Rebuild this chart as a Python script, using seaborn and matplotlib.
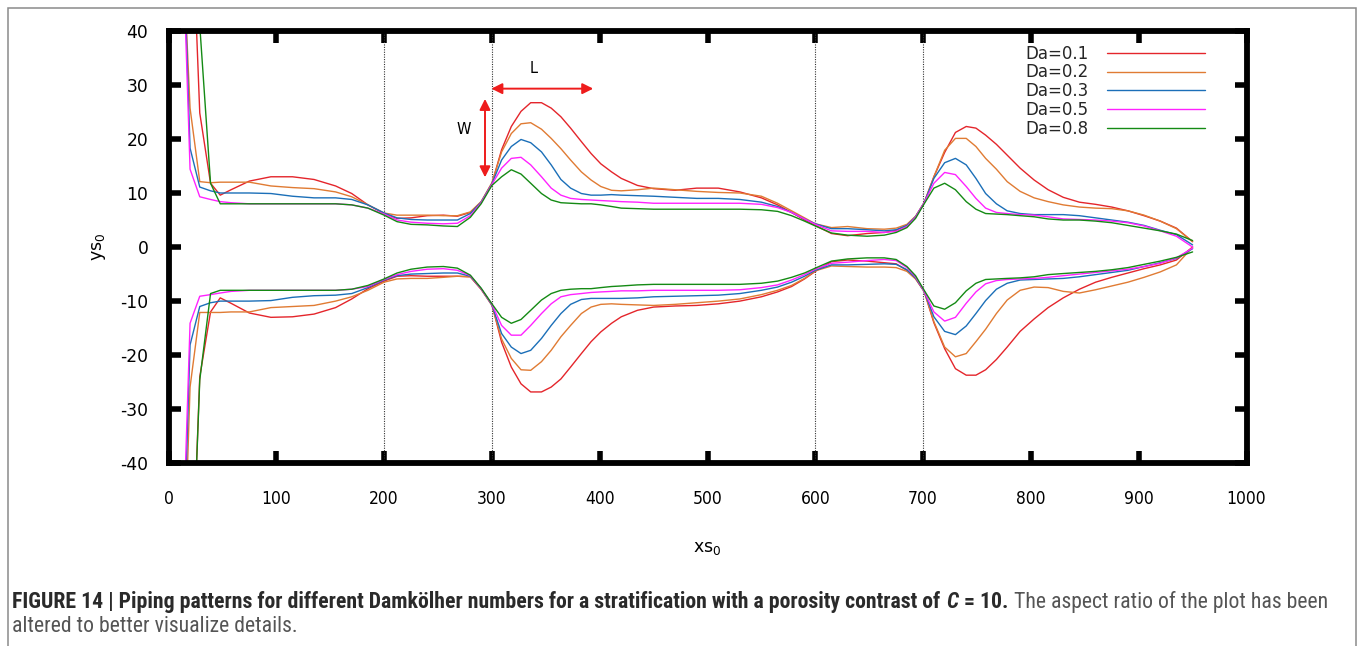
import numpy as np
import pandas as pd
import matplotlib
matplotlib.use("Agg")
import matplotlib.pyplot as plt
import seaborn as sns
from matplotlib import font_manager as fm
from matplotlib.patches import Rectangle

# ---------------------------------------------------------------- data
da_labels = ["Da=0.1", "Da=0.2", "Da=0.3", "Da=0.5", "Da=0.8"]
colors = ["#e4252b", "#e07b33", "#1b6fb8", "#ff22ff", "#148a14"]

xs0 = [10, 20, 29, 39, 48, 58,
       75, 95, 115, 135, 155, 170, 185, 200,
       212, 225, 240, 255, 268, 280, 290, 300,
       309, 318, 327, 336, 346, 355, 364, 373, 383, 392, 401, 411, 420,
       435, 450, 470, 490, 510, 530, 550, 565, 578, 590, 600,
       615, 630, 648, 664, 675, 685, 693, 701,
       710, 720, 730, 740, 749, 758, 768, 778, 790, 803, 816, 830, 845, 860,
       875, 890, 905, 920, 935, 950]

# upper front of the pipe (ys0 > 0)
up_01 = [150, 71, 24.8, 11.8, 9.6, 10.6,
         12.2, 13.0, 13.0, 12.5, 11.3, 9.9, 7.8, 6.2,
         5.3, 5.4, 5.8, 5.9, 5.7, 6.4, 8.3, 11.7,
         18.0, 22.3, 25.1, 26.7, 26.7, 25.7, 24.1, 22.0, 19.5, 17.3, 15.4, 13.9, 12.7,
         11.4, 10.8, 10.5, 10.9, 10.9, 10.2, 9.1, 7.8, 6.4, 5.0, 4.0,
         2.5, 2.1, 2.5, 2.7, 3.1, 4.0, 5.6, 8.2,
         13.0, 17.5, 21.2, 22.3, 22.0, 20.7, 19.0, 17.0, 14.6, 12.4, 10.6, 9.2, 8.3, 7.9,
         7.4, 6.7, 5.8, 4.8, 3.5, 1.0]
up_02 = [70, 25.7, 12.1, 11.9, 12.0, 12.0,
         12.0, 11.3, 11.0, 10.8, 10.2, 9.3, 7.8, 6.3,
         5.9, 5.9, 5.9, 5.8, 5.8, 6.5, 8.4, 11.9,
         17.6, 21.0, 22.8, 23.0, 21.8, 20.1, 18.2, 16.1, 13.9, 12.4, 11.2, 10.5, 10.4,
         10.6, 10.9, 10.6, 10.3, 10.1, 10.0, 9.4, 8.1, 6.7, 5.4, 4.3,
         3.6, 3.8, 3.4, 3.3, 3.5, 4.2, 5.7, 8.2,
         13.0, 17.9, 20.1, 20.1, 18.6, 16.4, 14.4, 12.1, 10.3, 9.1, 8.4, 7.8, 7.4, 7.2,
         7.1, 6.7, 5.9, 4.8, 3.4, 1.0]
up_03 = [79, 18.3, 11.1, 10.4, 10.0, 10.0,
         10.0, 9.9, 9.4, 9.1, 9.1, 8.8, 7.8, 6.3,
         5.4, 5.1, 5.0, 5.0, 5.0, 6.2, 8.3, 11.7,
         16.1, 18.6, 19.9, 19.3, 17.6, 15.2, 12.5, 10.9, 9.9, 9.6, 9.6, 9.7, 9.6,
         9.5, 9.4, 9.2, 9.0, 9.0, 8.8, 8.3, 7.5, 6.4, 5.2, 4.3,
         3.4, 3.4, 3.2, 3.0, 3.2, 4.0, 5.6, 8.2,
         12.7, 15.6, 16.4, 15.2, 12.7, 9.9, 8.0, 6.7, 6.2, 6.0, 6.0, 6.0, 5.8, 5.4,
         5.0, 4.6, 4.0, 3.1, 2.3, 0.4]
up_05 = [76, 14.4, 9.3, 8.8, 8.4, 8.2,
         8.0, 8.0, 8.0, 8.0, 8.0, 7.8, 7.2, 6.1,
         5.0, 4.6, 4.4, 4.3, 4.4, 5.8, 8.2, 11.6,
         14.6, 16.4, 16.6, 15.2, 13.0, 10.9, 9.6, 9.0, 8.8, 8.7, 8.6, 8.5, 8.4,
         8.3, 8.1, 8.1, 8.1, 8.1, 8.1, 7.9, 7.3, 6.4, 5.2, 4.2,
         3.0, 2.9, 2.9, 2.7, 2.9, 3.8, 5.5, 8.2,
         11.8, 13.8, 13.4, 11.2, 9.0, 7.2, 6.4, 6.2, 6.0, 5.9, 5.6, 5.2, 5.1, 5.0,
         4.8, 4.5, 3.9, 3.0, 2.0, 0.0]
up_08 = [150, 90, 41, 11.8, 8.0, 8.0,
         8.0, 8.0, 8.0, 8.0, 8.0, 7.8, 7.2, 5.9,
         4.7, 4.2, 4.1, 3.9, 3.8, 5.5, 8.0, 11.4,
         13.0, 14.3, 13.5, 11.8, 9.9, 8.7, 8.2, 8.1, 8.0, 8.0, 7.8, 7.5, 7.2,
         7.1, 7.0, 7.0, 7.0, 7.0, 7.0, 6.9, 6.6, 5.8, 4.8, 3.9,
         2.6, 2.2, 2.0, 2.2, 2.7, 3.6, 5.3, 8.0,
         10.9, 11.8, 10.6, 8.4, 7.0, 6.2, 6.1, 6.0, 5.8, 5.6, 5.2, 5.0, 5.0, 4.8,
         4.5, 4.0, 3.5, 3.0, 2.4, 1.2]

# lower front of the pipe (ys0 < 0)
lo_01 = [-150, -72, -24.0, -12.0, -9.4, -10.4,
         -12.2, -13.0, -12.9, -12.4, -11.2, -9.6, -7.7, -6.3,
         -5.4, -5.3, -5.4, -5.4, -5.4, -5.5, -7.8, -10.6,
         -17.6, -22.2, -25.3, -26.8, -26.8, -25.9, -24.4, -22.2, -19.7, -17.5, -15.7, -14.1, -12.9,
         -11.7, -11.1, -10.9, -10.8, -10.5, -10.0, -9.2, -8.3, -7.3, -5.9, -4.5,
         -2.7, -2.4, -2.6, -2.9, -3.1, -4.3, -5.8, -8.2,
         -14.0, -18.8, -22.5, -23.7, -23.7, -22.7, -20.8, -18.5, -15.6, -13.3, -11.2, -9.4, -7.8, -6.5,
         -5.6, -4.8, -4.0, -3.3, -2.4, 0.0]
lo_02 = [-88, -25.9, -12.1, -12.1, -12.1, -12.0,
         -12.0, -11.2, -11.0, -10.8, -10.0, -9.2, -8.0, -6.5,
         -5.9, -5.8, -5.8, -5.6, -5.4, -5.5, -7.8, -10.8,
         -17.0, -20.6, -22.7, -22.8, -21.2, -19.1, -16.6, -14.5, -12.3, -11.1, -10.6, -10.5, -10.6,
         -10.7, -10.8, -10.6, -10.3, -10.0, -9.6, -8.8, -8.0, -7.1, -5.8, -4.4,
         -3.5, -3.6, -3.7, -3.7, -3.8, -4.5, -5.9, -8.2,
         -13.8, -18.5, -20.3, -19.7, -17.5, -15.2, -12.3, -9.8, -8.0, -7.4, -7.5, -8.2, -8.5, -7.9,
         -7.2, -6.5, -5.6, -4.6, -3.3, 0.0]
lo_03 = [-82, -18.1, -11.0, -10.3, -10.0, -10.0,
         -10.0, -9.9, -9.3, -9.0, -8.9, -8.6, -7.5, -6.1,
         -5.3, -5.0, -4.9, -4.8, -4.8, -5.4, -7.7, -10.7,
         -16.0, -18.5, -19.7, -19.1, -16.9, -14.5, -12.3, -10.6, -9.7, -9.5, -9.5, -9.5, -9.5,
         -9.4, -9.2, -9.1, -9.0, -8.9, -8.6, -8.0, -7.4, -6.5, -5.4, -4.3,
         -3.3, -3.3, -3.2, -3.1, -3.2, -4.2, -5.7, -8.2,
         -12.9, -15.6, -16.2, -14.6, -12.3, -9.9, -7.8, -6.7, -6.1, -6.0, -5.9, -5.8, -5.5, -5.1,
         -4.7, -4.3, -3.6, -2.9, -2.1, -0.3]
lo_05 = [-76, -14.1, -9.1, -8.8, -8.5, -8.2,
         -8.0, -8.0, -8.0, -8.0, -8.0, -7.8, -7.3, -6.0,
         -5.1, -4.5, -4.1, -4.0, -4.3, -5.3, -7.7, -10.6,
         -14.5, -16.3, -16.3, -14.5, -12.3, -10.5, -9.2, -8.8, -8.6, -8.4, -8.3, -8.2, -8.1,
         -8.1, -8.0, -8.0, -8.0, -8.0, -7.9, -7.5, -7.0, -6.1, -5.1, -4.1,
         -3.0, -2.8, -2.5, -2.3, -2.5, -3.8, -5.5, -8.2,
         -12.0, -13.7, -13.0, -10.4, -8.3, -6.8, -6.2, -6.0, -5.9, -5.8, -5.6, -5.3, -5.0, -4.7,
         -4.4, -4.1, -3.6, -3.0, -2.0, -0.2]
lo_08 = [-150, -72, -24.6, -8.6, -8.0, -8.0,
         -8.0, -8.0, -8.0, -8.0, -8.0, -7.8, -7.1, -5.9,
         -4.8, -4.1, -3.7, -3.6, -3.9, -5.2, -7.6, -10.5,
         -13.0, -14.1, -13.4, -11.7, -9.8, -8.6, -8.0, -7.8, -7.7, -7.7, -7.5, -7.3, -7.2,
         -7.0, -6.9, -6.9, -6.9, -6.9, -6.9, -6.7, -6.3, -5.6, -4.8, -3.9,
         -2.6, -2.2, -2.0, -2.0, -2.3, -3.6, -5.3, -8.0,
         -10.9, -11.5, -10.3, -8.1, -6.7, -6.0, -5.9, -5.8, -5.7, -5.5, -5.1, -4.9, -4.7, -4.5,
         -4.2, -3.8, -3.2, -2.6, -1.9, -0.9]

upper = [up_01, up_02, up_03, up_05, up_08]
lower = [lo_01, lo_02, lo_03, lo_05, lo_08]

layer_bounds = [200, 300, 600, 700]
x_ticks = list(range(0, 1001, 100))
y_ticks = list(range(-40, 41, 10))

# ---------------------------------------------------------------- fonts
sns.set_theme(style="white")
plt.rcParams["font.family"] = ["DejaVu Sans"]
plt.rcParams["mathtext.default"] = "regular"
plt.rcParams["axes.unicode_minus"] = False

entries = fm.fontManager.ttflist
names = {f.name for f in entries}
has_dvs_cond = any(f.name == "DejaVu Sans" and f.stretch == "condensed" for f in entries)


def pick(*cands, default="DejaVu Sans"):
    for c in cands:
        if c in names:
            return c
    return default


if has_dvs_cond:
    tick_x_family, tick_x_stretch, tick_x_size = "DejaVu Sans", "condensed", 12.5
else:
    tick_x_family, tick_x_stretch, tick_x_size = pick("Liberation Sans Narrow", "Roboto Condensed"), "normal", 13.6
caption_family = pick("Liberation Sans Narrow", "Roboto Condensed", "Liberation Sans")

W, H = 1362, 646
fig = plt.figure(figsize=(W / 100, H / 100), dpi=100)
fig.patch.set_facecolor("white")

# axes box in pixels: x 168.5..1246.5, y 30.8..463.3 (from top)
ax = fig.add_axes([168.5 / W, 1 - 463.3 / H, 1078 / W, 432.5 / H])
ax.set_facecolor("white")

# ---------------------------------------------------------------- curves
for lab, col, yu, yl in zip(da_labels, colors, upper, lower):
    sns.lineplot(x=xs0, y=yu, color=col, lw=1.0, estimator=None, sort=False,
                 ax=ax, label=lab)
    sns.lineplot(x=xs0, y=yl, color=col, lw=1.0, estimator=None, sort=False,
                 ax=ax, label="_nolegend_")

# stratification boundaries
for xb in layer_bounds:
    ax.axvline(xb, color="#333333", lw=0.8, ls=(0, (1, 1.2)), zorder=1)

# W and L arrows
red = "#ee1c1c"
ax.annotate("", xy=(299.5, 29.3), xytext=(394, 29.3),
            arrowprops=dict(arrowstyle="<|-|>", color=red, lw=1.4,
                            mutation_scale=16, shrinkA=0, shrinkB=0))
ax.annotate("", xy=(293.6, 27.4), xytext=(293.6, 12.9),
            arrowprops=dict(arrowstyle="<|-|>", color=red, lw=1.4,
                            mutation_scale=16, shrinkA=0, shrinkB=0))
ax.text(339, 33.1, "L", fontsize=10.5, ha="center", va="center", color="black")
ax.text(273.6, 21.7, "W", fontsize=10.5, ha="center", va="center", color="black")

# ---------------------------------------------------------------- axes styling
ax.set_xlim(0, 1000)
ax.set_ylim(-40, 40)
ax.set_xticks(x_ticks)
ax.set_yticks(y_ticks)
for s in ax.spines.values():
    s.set_visible(True)
    s.set_linewidth(4.2)
    s.set_color("black")
ax.tick_params(axis="both", which="major", direction="in", length=8.5, width=4.0,
               color="black", top=True, right=True, bottom=True, left=True)
ax.tick_params(axis="y", labelsize=12.3, pad=14.5, labelcolor="black")
ax.tick_params(axis="x", labelsize=tick_x_size, pad=19, labelcolor="black")
for lbl in ax.get_xticklabels():
    lbl.set_family(tick_x_family)
    lbl.set_stretch(tick_x_stretch)
ax.grid(False)

ax.set_xlabel("xs$_0$", fontsize=12.5, color="black")
ax.set_ylabel("ys$_0$", fontsize=12.5, color="black")
ax.xaxis.set_label_coords(0.5, -0.175)
ax.yaxis.set_label_coords(-0.056, 0.5)

leg = ax.legend(loc="upper right", bbox_to_anchor=(0.9615, 0.968),
                markerfirst=False, frameon=False, fontsize=12.0,
                handlelength=5.9, handletextpad=1.1, labelspacing=0.05,
                borderpad=0, borderaxespad=0)
for ln in leg.get_lines():
    ln.set_linewidth(1.0)

# ---------------------------------------------------------------- page frame + caption
fig.add_artist(Rectangle((7.5 / W, -0.2), (1355.5 - 7.5) / W, 1.2 - 7.5 / H,
                         transform=fig.transFigure, fill=False,
                         edgecolor="#8a8a8a", lw=1.1))

renderer = fig.canvas.get_renderer()
dark, grey = "#2a2a2a", "#555555"
line1 = [
    ("FIGURE 14 | Piping patterns for different Damkölher numbers for a stratification with a porosity contrast of",
     dict(weight="bold", color=dark)),
    ("C", dict(weight="bold", style="italic", color=dark)),
    ("= 10.", dict(weight="bold", color=dark)),
    ("The aspect ratio of the plot has been", dict(color=grey)),
]
line2 = [("altered to better visualize details.", dict(color=grey))]


def place(runs, x0, ybase, size):
    arts = []
    x = x0
    for i, (txt, kw) in enumerate(runs):
        t = fig.text(x / W, ybase, txt, fontsize=size, family=caption_family,
                     ha="left", va="baseline", **kw)
        bb = t.get_window_extent(renderer)
        x = bb.x1 + 0.27 * size * 100 / 72
        arts.append(t)
    return arts, x - 0.27 * size * 100 / 72


size = 11.5
for _ in range(3):
    arts, xend = place(line1, 12, 1 - 608 / H, size)
    width = xend - 12
    for a in arts:
        a.remove()
    size *= (1332 - 12) / width
place(line1, 12, 1 - 608 / H, size)
place(line2, 12, 1 - 632 / H, size)

fig.savefig("out.png", dpi=100, facecolor="white")
